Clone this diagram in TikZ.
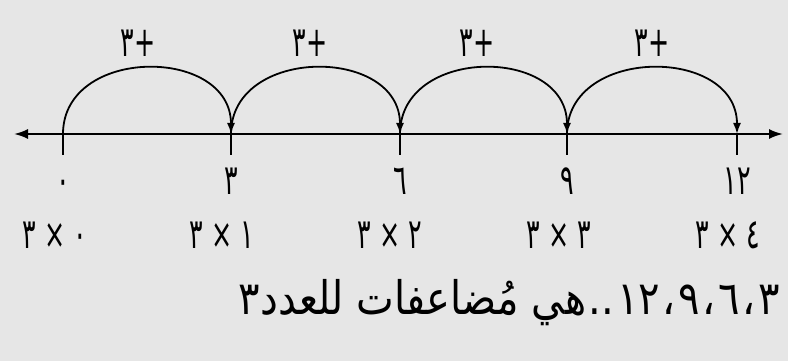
\documentclass[tikz,border=0pt]{standalone}
\usepackage{fontspec}
\usepackage{graphicx}
\newfontfamily\arabicfont[Script=Arabic]{DejaVu Sans}
\TeXXeTstate=1
\usetikzlibrary{arrows.meta}
\definecolor{bg}{HTML}{E6E6E6}
\newcommand{\talltext}[1]{\scalebox{1.15}[1.9]{#1}}
\newcommand{\gapk}{\kern1.5pt}
\tikzset{
  axisline/.style={line width=2pt, {Latex[length=14pt,width=10pt]}-{Latex[length=14pt,width=10pt]}},
  jumparc/.style={line width=1.8pt, -{Latex[length=11pt,width=8pt]}},
  tickmark/.style={line width=1.8pt},
  lbl/.style={font=\arabicfont\fontsize{22}{24}\selectfont, anchor=base, inner sep=0pt},
}
\begin{document}
\begin{tikzpicture}[x=1pt,y=-1pt]
\fill[bg] (0,0) rectangle (788,361);
\useasboundingbox (0,0) rectangle (788,361);
% points
\coordinate (p0) at (63,134);
\coordinate (p1) at (231,134);
\coordinate (p2) at (400,134);
\coordinate (p3) at (567,134);
\coordinate (p4) at (737,134);
\coordinate (L) at (14,134);
\coordinate (R) at (783,134);
\draw[axisline] (L) -- (R);
\foreach \i in {0,...,4} {
  \draw[tickmark] (p\i) -- ++(0,21);
}
% jumps
\draw[jumparc] (p0) .. controls +(0,-88) and +(0,-88) .. (p1);
\draw[jumparc] (p1) .. controls +(0,-88) and +(0,-88) .. (p2);
\draw[jumparc] (p2) .. controls +(0,-88) and +(0,-88) .. (p3);
\draw[jumparc] (p3) .. controls +(0,-88) and +(0,-88) .. (p4);
% jump labels
\node[lbl] (j1) at (138,57) {\talltext{\beginR +٣\endR}};
\node[lbl] (j2) at (310,57) {\talltext{\beginR +٣\endR}};
\node[lbl] (j3) at (477,57) {\talltext{\beginR +٣\endR}};
\node[lbl] (j4) at (652,57) {\talltext{\beginR +٣\endR}};
% numbers
\node[lbl] (n0) at (63,194) {\talltext{٠}};
\node[lbl] (n1) at (231,194) {\talltext{٣}};
\node[lbl] (n2) at (400,194) {\talltext{٦}};
\node[lbl] (n3) at (567,194) {\talltext{٩}};
\node[lbl] (n4) at (737,194) {\talltext{\beginL ١٢\endL}};
% products
\node[lbl] (m0) at (55,248) {\talltext{\beginR ٠ × ٣\endR}};
\node[lbl] (m1) at (222,248) {\talltext{\beginR ١ × ٣\endR}};
\node[lbl] (m2) at (390,248) {\talltext{\beginR ٢ × ٣\endR}};
\node[lbl] (m3) at (559,248) {\talltext{\beginR ٣ × ٣\endR}};
\node[lbl] (m4) at (728,248) {\talltext{\beginR ٤ × ٣\endR}};
% statement
\node[lbl, anchor=base east] (s) at (780,314) {\scalebox{1.82}[2.1]{\beginR ٣\gapk،\gapk٦\gapk،\gapk٩\gapk،\gapk\beginL ١٢\endL\gapk..\gapk هي مُضاعفات للعدد٣\endR}};
\end{tikzpicture}
\end{document}
